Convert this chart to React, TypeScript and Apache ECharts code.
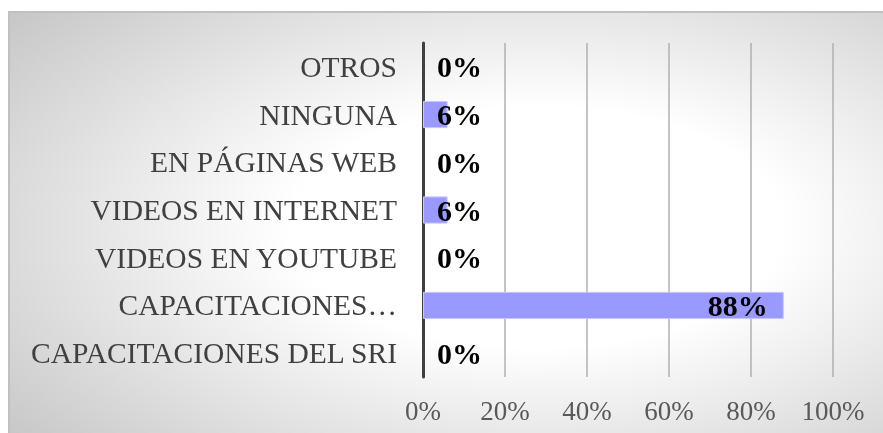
import React, { useEffect, useRef } from "react";
import * as echarts from "echarts";

const categories = [
  "CAPACITACIONES DEL SRI",
  "CAPACITACIONES…",
  "VIDEOS EN YOUTUBE",
  "VIDEOS EN INTERNET",
  "EN PÁGINAS WEB",
  "NINGUNA",
  "OTROS",
];
const values = [0, 88, 0, 6, 0, 6, 0];
const xTicks = [0, 20, 40, 60, 80, 100];

export default function App() {
  const ref = useRef<HTMLDivElement>(null);
  useEffect(() => {
    if (!ref.current) return;
    const chart = echarts.init(ref.current, undefined, { renderer: "svg" });
    const font = "'Liberation Serif', 'Times New Roman', serif";
    chart.setOption({
      animation: false,
      graphic: [
        {
          type: "rect",
          z: -10,
          silent: true,
          shape: { x: 9, y: 12, width: 880, height: 430 },
          style: {
            fill: {
              type: "radial",
              x: 0.6,
              y: 0.5,
              r: 0.8,
              colorStops: [
                { offset: 0, color: "#ffffff" },
                { offset: 0.35, color: "#ffffff" },
                { offset: 1, color: "#c4c4c4" },
              ],
            },
            stroke: "#c0c0c0",
            lineWidth: 2,
          },
        },
      ],
      grid: { left: 423, right: 50, top: 43, bottom: 56, containLabel: false },
      xAxis: {
        type: "value",
        min: xTicks[0],
        max: xTicks[xTicks.length - 1],
        interval: 20,
        axisLine: { show: false },
        axisTick: { show: false },
        splitLine: { show: true, lineStyle: { color: "#b0b0b0", width: 1.5 } },
        axisLabel: {
          formatter: (v: number) => `${v}%`,
          fontFamily: font,
          fontSize: 27,
          color: "#595959",
          margin: 20,
        },
      },
      yAxis: {
        type: "category",
        data: categories,
        axisTick: { show: false },
        axisLine: { show: true, lineStyle: { color: "#404040", width: 3 } },
        axisLabel: {
          fontFamily: font,
          fontSize: 29.5,
          color: "#404040",
          margin: 26,
        },
      },
      series: [
        {
          type: "bar",
          barWidth: "57%",
          data: values.map((v) => ({
            value: v,
            itemStyle: { borderWidth: v > 0 ? 1 : 0 },
            label:
              v > 50
                ? { position: "insideRight", distance: 16 }
                : { position: "insideLeft", distance: 14 },
          })),
          itemStyle: { color: "#9999ff", borderColor: "#c8c8ff", borderWidth: 1 },
          label: {
            show: true,
            formatter: (p: any) => `${p.value}%`,
            fontFamily: font,
            fontWeight: "bold",
            fontSize: 30,
            color: "#000000",
          },
        },
      ],
    });
    return () => chart.dispose();
  }, []);
  return (
    <div
      ref={ref}
      style={{ position: "fixed", left: 0, top: 0, width: 883, height: 433 }}
    />
  );
}
